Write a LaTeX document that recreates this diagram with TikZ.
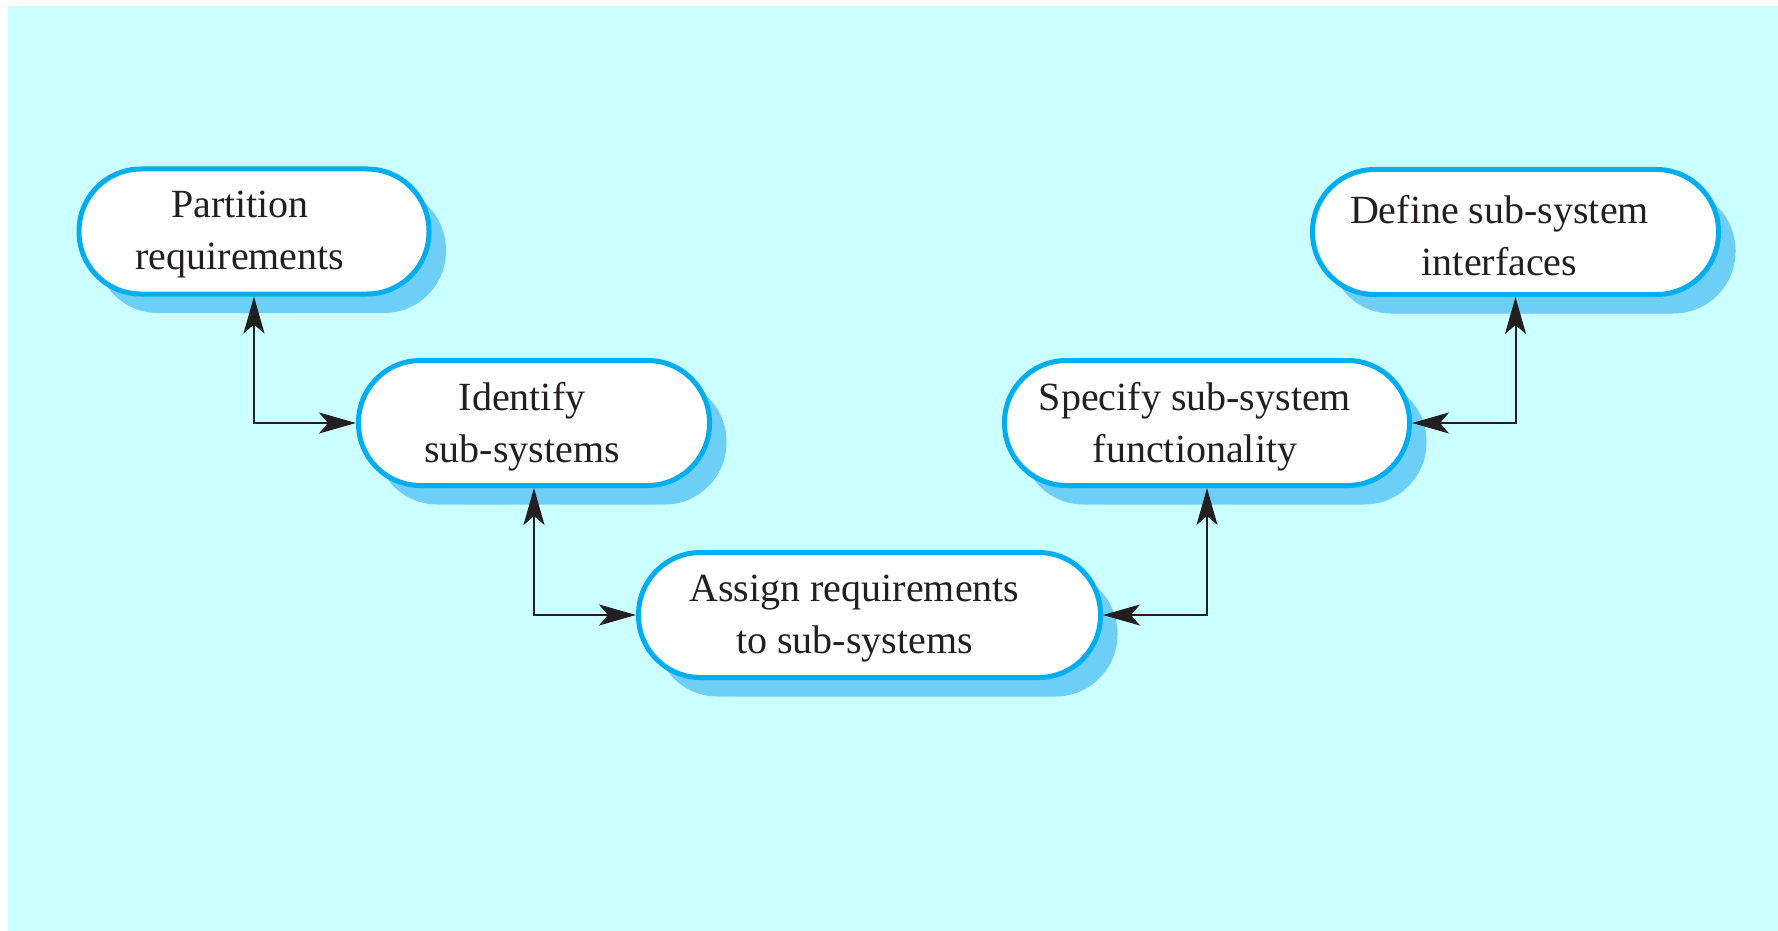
\documentclass[tikz,border=0pt]{standalone}
\usepackage{fontspec}
\setmainfont{Liberation Serif}
\usetikzlibrary{arrows.meta,shadows}
\definecolor{bgcyan}{HTML}{CCFFFF}
\definecolor{bordblue}{HTML}{00AEEF}
\definecolor{shadblue}{HTML}{6DCFF6}
\definecolor{inkdark}{HTML}{231F20}
\tikzset{
  stage/.style={draw=bordblue, line width=2.5pt, fill=white, rectangle,
    rounded corners=31pt, minimum height=62.5pt, inner sep=0pt,
    drop shadow={shadow xshift=8.5pt, shadow yshift=-9.5pt, fill=shadblue, opacity=1}},
  stagetext/.style={text=inkdark, align=center, font=\fontsize{20pt}{26pt}\selectfont, inner sep=0pt},
  arr/.style={draw=inkdark, line width=1pt,
    {Stealth[length=18.5pt,width=10.5pt,inset=4.5pt]}-{Stealth[length=18.5pt,width=10.5pt,inset=4.5pt]}}
}
\begin{document}
\begin{tikzpicture}[x=0.5pt,y=-0.5pt]
\useasboundingbox (0,0) rectangle (1778,931);
\fill[bgcyan] (8,6) rectangle (1778,931);

\node[stage, minimum width=175pt]   (n1) at (254,231.5) {};
\node[stage, minimum width=175.5pt] (n2) at (534,423) {};
\node[stage, minimum width=231pt]   (n3) at (869.5,615) {};
\node[stage, minimum width=202.5pt] (n4) at (1207,423) {};
\node[stage, minimum width=203pt]   (n5) at (1515.5,232) {};

\node[stagetext] (t1) at ([xshift=-7pt,yshift=-1.7pt]n1.center) {Partition\\requirements};
\node[stagetext] (t2) at ([xshift=-6pt,yshift=-1.7pt]n2.center) {Identify\\sub-systems};
\node[stagetext] (t3) at ([xshift=-7.5pt,yshift=-1.7pt]n3.center) {Assign requirements\\to sub-systems};
\node[stagetext] (t4) at ([xshift=-6pt,yshift=-1.7pt]n4.center) {Specify sub-system\\functionality};
\node[stagetext] (t5) at ([xshift=-8pt,yshift=-1.7pt]n5.center) {Define sub-system\\interfaces};

\draw[arr] (n1.south) |- (n2.west);
\draw[arr] (n2.south) |- (n3.west);
\draw[arr] (n4.south) |- (n3.east);
\draw[arr] (n5.south) |- (n4.east);
\end{tikzpicture}
\end{document}
